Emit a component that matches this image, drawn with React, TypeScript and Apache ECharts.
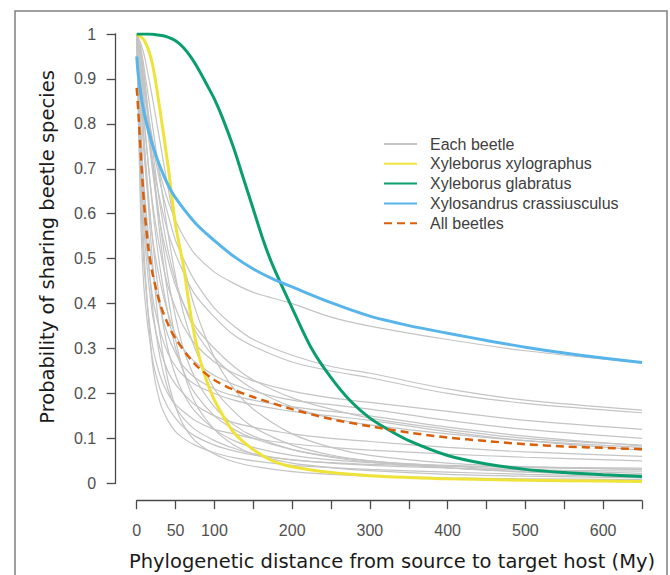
import React, { useEffect, useRef } from "react";
import * as echarts from "echarts";

// ---- data ----
const xTicks = [0, 50, 100, 150, 200, 250, 300, 350, 400, 450, 500, 550, 600, 650];
const xTickLabels = ["0", "50", "100", "", "200", "", "300", "", "400", "", "500", "", "600", ""];
const yTickLabels = ["0", "0.1", "0.2", "0.3", "0.4", "0.5", "0.6", "0.7", "0.8", "0.9", "1"];

const legendNames = [
  "Each beetle",
  "Xyleborus xylographus",
  "Xyleborus glabratus",
  "Xylosandrus crassiusculus",
  "All beetles",
];

const xylographusX = [0, 10, 20, 30, 40, 50, 60, 70, 80, 90, 100, 125, 150, 175, 200, 250, 300, 350, 400, 500, 600, 650];
const xylographusY = [1, 0.985, 0.935, 0.83, 0.71, 0.575, 0.485, 0.37, 0.285, 0.228, 0.185, 0.113, 0.075, 0.05, 0.037, 0.024, 0.017, 0.013, 0.01, 0.007, 0.005, 0.004];

const glabratusX = [0, 15, 30, 40, 50, 60, 70, 80, 90, 100, 110, 125, 137, 150, 162, 175, 200, 225, 250, 275, 300, 325, 350, 400, 450, 500, 550, 600, 650];
const glabratusY = [1, 1, 0.997, 0.993, 0.985, 0.97, 0.948, 0.92, 0.888, 0.855, 0.815, 0.745, 0.68, 0.61, 0.545, 0.485, 0.39, 0.3, 0.235, 0.183, 0.145, 0.118, 0.095, 0.062, 0.043, 0.031, 0.024, 0.019, 0.015];

const crassiusculusX = [0, 2, 5, 10, 20, 30, 40, 50, 75, 100, 125, 150, 175, 200, 250, 300, 350, 400, 450, 500, 550, 600, 650];
const crassiusculusY = [0.95, 0.91, 0.87, 0.82, 0.755, 0.705, 0.665, 0.635, 0.58, 0.54, 0.505, 0.477, 0.455, 0.437, 0.402, 0.372, 0.351, 0.334, 0.318, 0.303, 0.29, 0.279, 0.269];

const allBeetlesX = [0, 2, 5, 10, 15, 20, 30, 40, 50, 75, 100, 125, 150, 200, 250, 300, 350, 400, 450, 500, 550, 600, 650];
const allBeetlesY = [0.88, 0.83, 0.74, 0.61, 0.525, 0.47, 0.4, 0.355, 0.322, 0.265, 0.23, 0.208, 0.192, 0.165, 0.143, 0.127, 0.113, 0.102, 0.094, 0.087, 0.082, 0.079, 0.076];

// each beetle (grey curves), sampled at eachBeetleX
const eachBeetleX = [0, 5, 10, 20, 30, 40, 50, 60, 75, 100, 125, 150, 200, 250, 300, 400, 500, 650];
const beetle01 = [1, 0.93, 0.87, 0.77, 0.69, 0.63, 0.585, 0.55, 0.51, 0.47, 0.445, 0.425, 0.4, 0.37, 0.35, 0.32, 0.295, 0.268];
const beetle02 = [1, 0.95, 0.88, 0.76, 0.67, 0.6, 0.54, 0.5, 0.45, 0.39, 0.35, 0.32, 0.285, 0.26, 0.245, 0.21, 0.185, 0.163];
const beetle03 = [1, 0.92, 0.84, 0.72, 0.63, 0.56, 0.51, 0.47, 0.42, 0.37, 0.33, 0.305, 0.27, 0.25, 0.235, 0.2, 0.178, 0.157];
const beetle04 = [1, 0.9, 0.8, 0.63, 0.52, 0.44, 0.39, 0.35, 0.31, 0.27, 0.245, 0.228, 0.205, 0.19, 0.18, 0.16, 0.14, 0.12];
const beetle05 = [1, 0.85, 0.72, 0.55, 0.45, 0.38, 0.33, 0.3, 0.27, 0.24, 0.22, 0.205, 0.185, 0.175, 0.165, 0.14, 0.12, 0.1];
const beetle06 = [1, 0.8, 0.65, 0.48, 0.39, 0.33, 0.29, 0.26, 0.235, 0.21, 0.195, 0.185, 0.17, 0.16, 0.15, 0.125, 0.105, 0.083];
const beetle07 = [1, 0.75, 0.58, 0.42, 0.34, 0.29, 0.26, 0.24, 0.22, 0.2, 0.185, 0.175, 0.16, 0.15, 0.14, 0.115, 0.095, 0.074];
const beetle08 = [1, 0.6, 0.42, 0.28, 0.21, 0.17, 0.145, 0.125, 0.105, 0.085, 0.072, 0.063, 0.052, 0.046, 0.042, 0.038, 0.036, 0.034];
const beetle09 = [1, 0.7, 0.5, 0.27, 0.18, 0.14, 0.115, 0.1, 0.085, 0.068, 0.057, 0.05, 0.04, 0.035, 0.031, 0.025, 0.02, 0.015];
const beetle10 = [1, 0.8, 0.62, 0.4, 0.28, 0.21, 0.17, 0.145, 0.12, 0.095, 0.078, 0.066, 0.052, 0.045, 0.04, 0.034, 0.03, 0.027];
const beetle11 = [1, 0.88, 0.75, 0.55, 0.4, 0.3, 0.24, 0.2, 0.16, 0.12, 0.095, 0.08, 0.062, 0.052, 0.046, 0.04, 0.035, 0.031];
const beetle12 = [1, 0.9, 0.8, 0.62, 0.48, 0.38, 0.3, 0.25, 0.2, 0.15, 0.12, 0.1, 0.075, 0.06, 0.05, 0.038, 0.03, 0.022];
const beetle13 = [1, 0.95, 0.88, 0.72, 0.58, 0.46, 0.37, 0.3, 0.235, 0.17, 0.13, 0.105, 0.075, 0.058, 0.047, 0.034, 0.025, 0.018];
const beetle14 = [1, 0.97, 0.92, 0.8, 0.68, 0.56, 0.46, 0.38, 0.3, 0.21, 0.16, 0.125, 0.085, 0.063, 0.05, 0.035, 0.026, 0.018];
const beetle15 = [1, 0.98, 0.95, 0.86, 0.76, 0.66, 0.57, 0.49, 0.39, 0.28, 0.21, 0.165, 0.11, 0.08, 0.062, 0.045, 0.037, 0.031];
const beetle16 = [1, 0.93, 0.85, 0.7, 0.58, 0.5, 0.44, 0.4, 0.35, 0.3, 0.26, 0.23, 0.19, 0.165, 0.145, 0.12, 0.1, 0.085];
const beetle17 = [1, 0.72, 0.55, 0.38, 0.3, 0.25, 0.22, 0.2, 0.175, 0.15, 0.135, 0.125, 0.11, 0.1, 0.093, 0.08, 0.07, 0.06];
const beetle18 = [1, 0.65, 0.47, 0.31, 0.24, 0.2, 0.175, 0.16, 0.14, 0.12, 0.11, 0.1, 0.088, 0.08, 0.074, 0.065, 0.058, 0.05];
const beetle19 = [1, 0.97, 0.9, 0.75, 0.62, 0.52, 0.45, 0.4, 0.34, 0.28, 0.24, 0.21, 0.17, 0.145, 0.13, 0.11, 0.095, 0.08];
const beetle20 = [1, 0.9, 0.75, 0.5, 0.33, 0.23, 0.17, 0.13, 0.095, 0.065, 0.048, 0.038, 0.026, 0.02, 0.016, 0.012, 0.01, 0.008];
const beetle21 = [1, 0.96, 0.9, 0.72, 0.55, 0.42, 0.32, 0.25, 0.18, 0.12, 0.085, 0.065, 0.045, 0.035, 0.028, 0.02, 0.016, 0.012];
const eachBeetleY = [
  beetle01, beetle02, beetle03, beetle04, beetle05, beetle06, beetle07,
  beetle08, beetle09, beetle10, beetle11, beetle12, beetle13, beetle14,
  beetle15, beetle16, beetle17, beetle18, beetle19, beetle20, beetle21,
];

const pair = (xs: number[], ys: number[]) => xs.map((x, i) => [x, ys[i]]);

export default function App() {
  const ref = useRef<HTMLDivElement>(null);

  useEffect(() => {
    document.body.style.margin = "0";
    const chart = echarts.init(ref.current!, null, { renderer: "svg" });

    const tickFont = "'Liberation Sans', Arial, sans-serif";
    const titleFont = "'DejaVu Sans', Verdana, sans-serif";
    const axisColor = "#4a4a4a";

    const greySeries = eachBeetleY.map((ys) => ({
      name: legendNames[0],
      type: "line",
      data: pair(eachBeetleX, ys),
      symbol: "none",
      smooth: 0.3,
      silent: true,
      lineStyle: { color: "#c4c4c4", width: 1.2 },
      itemStyle: { color: "#c4c4c4" },
      z: 1,
    }));

    const colored = [
      { name: legendNames[1], xs: xylographusX, ys: xylographusY, color: "#efe33a", type: "solid" as any, z: 2 },
      { name: legendNames[2], xs: glabratusX, ys: glabratusY, color: "#0a9e6e", type: "solid" as any, z: 3 },
      { name: legendNames[3], xs: crassiusculusX, ys: crassiusculusY, color: "#58b5ea", type: "solid" as any, z: 4 },
      { name: legendNames[4], xs: allBeetlesX, ys: allBeetlesY, color: "#d9600a", type: [8, 5] as any, z: 5 },
    ].map((s) => ({
      name: s.name,
      type: "line",
      data: pair(s.xs, s.ys),
      symbol: "none",
      smooth: 0.3,
      silent: true,
      lineStyle: { color: s.color, width: s.name === legendNames[4] ? 2.5 : 3, type: s.type },
      itemStyle: { color: s.color },
      z: s.z,
    }));

    chart.setOption({
      animation: false,
      backgroundColor: "#ffffff",
      grid: { left: 136.7, right: 28, top: 34, bottom: 91.7, containLabel: false },
      legend: {
        orient: "vertical",
        left: 378,
        top: 131,
        itemWidth: 33,
        itemHeight: 16,
        itemGap: 3.8,
        selectedMode: false,
        data: legendNames,
        itemStyle: { opacity: 0 },
        textStyle: {
          fontFamily: tickFont,
          fontSize: 16,
          color: "#404040",
          lineHeight: 16,
          padding: [0, 0, 0, 8],
        },
      },
      xAxis: {
        type: "value",
        min: 0,
        max: 650,
        interval: 50,
        offset: 17.4,
        splitLine: { show: false },
        axisLine: { show: true, onZero: false, lineStyle: { color: axisColor, width: 1.3 } },
        axisTick: { show: true, length: 8.5, lineStyle: { color: axisColor, width: 1.3 } },
        axisLabel: {
          margin: 22,
          fontFamily: tickFont,
          fontSize: 16,
          color: "#505050",
          formatter: (v: number) => xTickLabels[xTicks.indexOf(Math.round(v))] ?? "",
        },
      },
      yAxis: {
        type: "value",
        min: 0,
        max: 1,
        interval: 0.1,
        offset: 21,
        splitLine: { show: false },
        axisLine: { show: true, onZero: false, lineStyle: { color: axisColor, width: 1.3 } },
        axisTick: { show: true, length: 9, lineStyle: { color: axisColor, width: 1.3 } },
        axisLabel: {
          margin: 19.5,
          fontFamily: tickFont,
          fontSize: 16,
          color: "#505050",
          formatter: (v: number) => yTickLabels[Math.round(v * 10)] ?? "",
        },
      },
      graphic: [
        {
          type: "rect",
          silent: true,
          shape: { x: 15, y: 11, width: 652, height: 640 },
          style: { fill: "none", stroke: "#808080", lineWidth: 1.5 },
          z: 100,
        },
        {
          type: "text",
          silent: true,
          x: 392,
          y: 561,
          style: {
            text: "Phylogenetic distance from source to target host (My)",
            fontFamily: titleFont,
            fontSize: 19.5,
            fill: "#1a1a1a",
            align: "center",
            verticalAlign: "middle",
          },
        },
        {
          type: "text",
          silent: true,
          x: 47,
          y: 247,
          rotation: Math.PI / 2,
          style: {
            text: "Probability of sharing beetle species",
            fontFamily: titleFont,
            fontSize: 19.5,
            fill: "#1a1a1a",
            align: "center",
            verticalAlign: "middle",
          },
        },
      ],
      series: [...greySeries, ...colored],
    });

    return () => chart.dispose();
  }, []);

  return <div ref={ref} style={{ width: 670, height: 575 }} />;
}
